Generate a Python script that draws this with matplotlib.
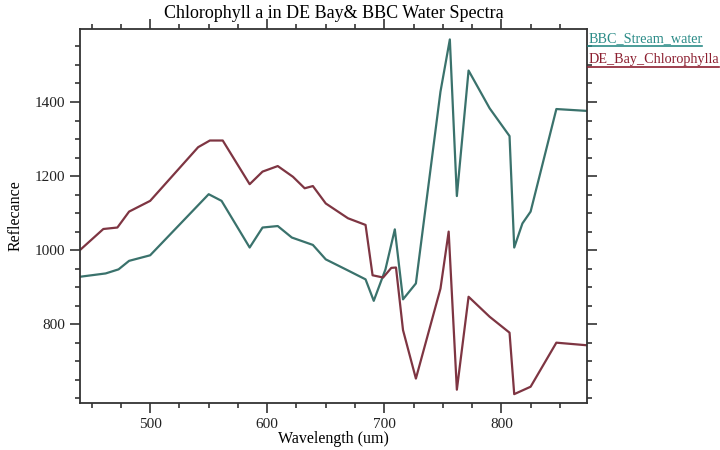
import numpy as np
import matplotlib
matplotlib.use("Agg")
from matplotlib import pyplot as plt
from matplotlib.lines import Line2D

# spectra sampled at the band centres (nm)
bbc_wavelength = [440, 462, 473, 482, 500, 550, 561, 585, 596, 609, 621, 639, 650, 669,
                  684, 691, 701, 709, 716, 727, 748, 756, 762, 772, 790, 807, 811, 818,
                  825, 847, 873]
bbc_reflectance = [928, 937, 948, 971, 986, 1151, 1133, 1007, 1061, 1065, 1034, 1014, 975, 945,
                   921, 863, 948, 1056, 867, 910, 1428, 1569, 1146, 1485, 1383, 1308, 1007, 1072,
                   1104, 1381, 1376]

de_wavelength = [440, 460, 472, 482, 500, 541, 551, 562, 585, 596, 609, 622, 632, 639, 650,
                 669, 679, 684, 690, 699, 706, 710, 716, 727, 748, 755, 762, 772, 790, 807,
                 811, 825, 847, 873]
de_reflectance = [1000, 1057, 1061, 1104, 1133, 1278, 1296, 1296, 1178, 1212, 1227, 1198, 1167, 1173, 1126,
                  1086, 1074, 1068, 932, 926, 952, 953, 784, 653, 896, 1050, 623, 874, 820, 777,
                  611, 631, 750, 743]

series_names = ["BBC_Stream_water", "DE_Bay_Chlorophylla"]
line_colors = ["#3a726c", "#7e3542"]
label_colors = ["#2c8c88", "#8c1f30"]

plt.rcParams['font.family'] = ['Liberation Serif', 'DejaVu Serif']

fig = plt.figure(figsize=(7.2, 4.5), dpi=100)
ax = fig.add_axes([0.111, 0.1044, 0.704, 0.831])

ax.plot(bbc_wavelength, bbc_reflectance, color=line_colors[0], lw=1.6)
ax.plot(de_wavelength, de_reflectance, color=line_colors[1], lw=1.6)

ax.set_xlim(440, 873)
ax.set_ylim(587, 1597)
ax.set_xticks([500, 600, 700, 800])
ax.set_xticks(np.arange(450, 873, 25), minor=True)
ax.set_yticks([800, 1000, 1200, 1400])
ax.set_yticks(np.arange(600, 1597, 50), minor=True)
ax.tick_params(which='both', direction='out', top=True, right=True, width=1.1,
               colors='#222222', labelsize=11)
ax.tick_params(which='major', length=7)
ax.tick_params(which='minor', length=3.5)
for side in ax.spines.values():
    side.set_linewidth(1.3)
    side.set_color('#333333')

ax.set_title("Chlorophyll a in DE Bay& BBC Water Spectra", fontsize=13, pad=8)
ax.set_xlabel("Wavelength (um)", fontsize=11.5, labelpad=0)
ax.set_ylabel("Reflecance", fontsize=11.5, labelpad=8)

# legend: coloured names with an underline, to the right of the frame
fig.canvas.draw()
renderer = fig.canvas.get_renderer()
for i, (name, col) in enumerate(zip(series_names, label_colors)):
    t = fig.text(0.817, 0.915 - i * 0.048, name, color=col, fontsize=10.2, va='center', ha='left')
    bb = t.get_window_extent(renderer).transformed(fig.transFigure.inverted())
    fig.add_artist(Line2D([bb.x0, bb.x1], [bb.y0 - 0.002, bb.y0 - 0.002], color=col, lw=1.2,
                          transform=fig.transFigure))

fig.savefig("out.png", dpi=100)
